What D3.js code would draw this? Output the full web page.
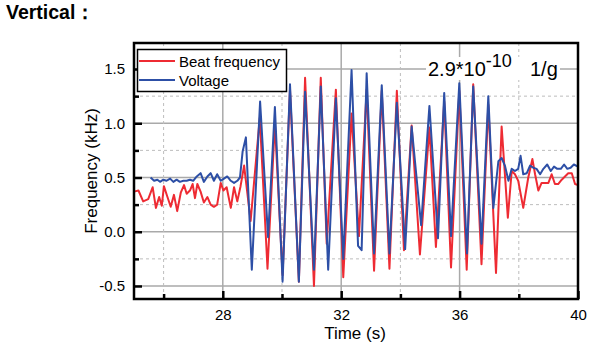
<!DOCTYPE html>
<html>
<head>
<meta charset="utf-8">
<script src="https://cdn.jsdelivr.net/npm/d3@7"></script>
<style>
  body { margin: 0; background: #fff; }
  svg { font-family: "Liberation Sans", Arial, sans-serif; }
</style>
</head>
<body>
<svg id="chart" width="603" height="349"></svg>
<script>
// values
let beatTime = [25.00,25.15,25.31,25.48,25.63,25.74,25.85,25.94,26.01,26.13,26.24,26.35,26.46,26.58,26.69,26.78,26.89,26.98,27.06,27.14,27.25,27.36,27.48,27.59,27.70,27.81,27.93,28.02,28.13,28.27,28.38,28.49,28.60,28.72,28.94,
  29.25,29.51,29.76,30.02,30.27,30.57,30.78,31.08,31.31,31.51,31.82,32.07,32.35,32.60,32.86,33.11,33.37,33.63,33.88,34.12,34.38,34.66,34.98,35.20,35.48,35.71,35.99,36.24,36.46,36.74,36.97,37.23,37.42,37.63,
  37.76,37.87,37.98,38.15,38.32,38.46,38.55,38.66,38.77,38.89,39.00,39.11,39.22,39.33,39.45,39.56,39.67,39.79,39.90,40.00];
let beatFreq = [0.37,0.38,0.28,0.30,0.41,0.22,0.32,0.24,0.42,0.32,0.23,0.34,0.19,0.36,0.43,0.35,0.38,0.44,0.31,0.44,0.37,0.27,0.32,0.25,0.23,0.25,0.45,0.38,0.41,0.22,0.41,0.28,0.42,0.61,0.10,
  1.05,-0.34,1.00,-0.40,1.31,-0.46,1.42,-0.50,1.42,-0.11,1.31,-0.42,1.09,-0.04,1.31,-0.36,1.30,-0.34,1.30,-0.17,0.98,-0.21,0.96,-0.14,1.20,-0.33,1.30,-0.35,1.36,-0.30,1.17,-0.38,0.97,0.13,
  0.56,0.53,0.47,0.22,0.50,0.67,0.53,0.38,0.45,0.45,0.45,0.53,0.44,0.44,0.48,0.51,0.54,0.54,0.44,0.43];

let voltTime = [25.56,25.68,25.79,25.88,25.99,26.10,26.22,26.33,26.44,26.55,26.67,26.78,26.89,27.00,27.12,27.25,27.36,27.48,27.59,27.70,27.81,27.93,28.04,28.15,28.27,28.38,28.49,28.58,28.67,28.78,
  28.98,29.26,29.53,29.76,30.02,30.27,30.57,30.78,31.08,31.31,31.56,31.82,32.07,32.35,32.57,32.69,32.86,33.11,33.37,33.63,33.88,34.16,34.38,34.70,34.98,35.27,35.48,35.71,35.99,36.25,36.46,36.74,36.97,37.14,
  37.31,37.42,37.53,37.65,37.76,37.87,37.98,38.06,38.15,38.27,38.38,38.49,38.60,38.72,38.83,38.96,39.08,39.19,39.30,39.42,39.53,39.64,39.75,39.86,40.00];
let voltValue = [0.50,0.47,0.48,0.46,0.48,0.47,0.49,0.46,0.48,0.46,0.47,0.47,0.48,0.47,0.51,0.54,0.46,0.51,0.54,0.47,0.53,0.47,0.49,0.51,0.47,0.45,0.47,0.50,0.74,0.87,
  -0.35,1.20,-0.05,1.15,-0.46,1.36,-0.46,1.29,-0.35,1.34,-0.35,1.23,-0.25,1.49,-0.13,-0.17,1.46,-0.20,1.35,-0.20,1.19,-0.16,0.97,0.06,1.16,-0.06,1.28,-0.04,1.37,-0.20,1.34,-0.11,1.25,0.22,
  0.65,0.68,0.61,0.47,0.58,0.56,0.58,0.70,0.53,0.54,0.61,0.59,0.58,0.53,0.58,0.62,0.56,0.60,0.58,0.58,0.62,0.58,0.59,0.62,0.60];

let yMajor = [-0.5, 0, 0.5, 1.0, 1.5];
let yMinor = [-0.25, 0.25, 0.75, 1.25];
let xMajor = [28, 32, 36, 40];
let xMinor = [26, 30, 34, 38];

let svg = d3.select('#chart');

// title
svg.append('text')
  .attr('x', 6).attr('y', 19)
  .style('font-size', '19.5px').style('font-weight', 'bold')
  .text('Vertical：');

let pLeft = 134, pRight = 578, pTop = 43, pBottom = 299;
let x = d3.scaleLinear().domain([25, 40]).range([pLeft, pRight]);
let y = d3.scaleLinear().domain([-0.62, 1.74]).range([pBottom, pTop]);

// grid
let grid = svg.append('g');
grid.selectAll('.hmaj').data(yMajor).enter().append('line')
  .attr('x1', pLeft).attr('x2', pRight)
  .attr('y1', d => y(d)).attr('y2', d => y(d))
  .attr('stroke', '#a9a9a9').attr('stroke-width', 1.5);
grid.selectAll('.vmaj').data(xMajor.filter(d => d < 40)).enter().append('line')
  .attr('x1', d => x(d)).attr('x2', d => x(d))
  .attr('y1', pTop).attr('y2', pBottom)
  .attr('stroke', '#a9a9a9').attr('stroke-width', 1.5);
grid.selectAll('.hmin').data(yMinor).enter().append('line')
  .attr('x1', pLeft).attr('x2', pRight)
  .attr('y1', d => y(d)).attr('y2', d => y(d))
  .attr('stroke', '#bdbdbd').attr('stroke-width', 1).attr('stroke-dasharray', '3,3');
grid.selectAll('.vmin').data(xMinor).enter().append('line')
  .attr('x1', d => x(d)).attr('x2', d => x(d))
  .attr('y1', pTop).attr('y2', pBottom)
  .attr('stroke', '#bdbdbd').attr('stroke-width', 1).attr('stroke-dasharray', '3,3');

// series
let line = d3.line().x(d => x(d[0])).y(d => y(d[1]));
let beat = beatTime.map((t, i) => [t, beatFreq[i]]);
let volt = voltTime.map((t, i) => [t, voltValue[i]]);

svg.append('path').datum(beat)
  .attr('d', line).attr('fill', 'none')
  .attr('stroke', '#ee2b33').attr('stroke-width', 2).attr('stroke-linejoin', 'round');
svg.append('path').datum(volt)
  .attr('d', line).attr('fill', 'none')
  .attr('stroke', '#2d4fa6').attr('stroke-width', 2).attr('stroke-linejoin', 'round');

// axes
let fmt = d => d.toFixed(1);
svg.append('g').attr('transform', `translate(${pLeft},0)`)
  .call(d3.axisLeft(y).tickValues(yMajor).tickFormat(fmt).tickSize(-8).tickPadding(9));
svg.append('g').attr('transform', `translate(${pLeft},0)`)
  .call(d3.axisLeft(y).tickValues(yMinor).tickFormat('').tickSize(-5));
svg.append('g').attr('transform', `translate(0,${pBottom})`)
  .call(d3.axisBottom(x).tickValues(xMajor).tickSize(-8).tickPadding(10));
svg.append('g').attr('transform', `translate(0,${pBottom})`)
  .call(d3.axisBottom(x).tickValues(xMinor).tickFormat('').tickSize(-5));

svg.selectAll('.domain').remove();
svg.selectAll('.tick line').attr('stroke', '#000').attr('stroke-width', 2.5);
svg.selectAll('.tick text').style('font-size', '15px').attr('fill', '#000')
  .style('font-family', '"Liberation Sans", Arial, sans-serif');

// frame
svg.append('rect')
  .attr('x', pLeft).attr('y', pTop)
  .attr('width', pRight - pLeft).attr('height', pBottom - pTop)
  .attr('fill', 'none').attr('stroke', '#000').attr('stroke-width', 2.5);

// axis titles
svg.append('text')
  .attr('x', 355).attr('y', 339)
  .attr('text-anchor', 'middle').style('font-size', '17px')
  .text('Time (s)');
svg.append('text')
  .attr('transform', `translate(97,${(pTop + pBottom) / 2}) rotate(-90)`)
  .attr('text-anchor', 'middle').style('font-size', '17px')
  .text('Frequency (kHz)');

// legend
let legend = svg.append('g');
legend.append('rect')
  .attr('x', 137.5).attr('y', 49.5).attr('width', 149).attr('height', 42)
  .attr('fill', '#fff').attr('stroke', '#000').attr('stroke-width', 1.5);
let legendItems = [['Beat frequency', '#ee2b33'], ['Voltage', '#2d4fa6']];
legendItems.forEach((d, i) => {
  let yy = 61 + i * 19;
  legend.append('line')
    .attr('x1', 139).attr('x2', 175).attr('y1', yy).attr('y2', yy)
    .attr('stroke', d[1]).attr('stroke-width', 2);
  legend.append('text')
    .attr('x', 179).attr('y', yy + 5.5)
    .style('font-size', '15px')
    .text(d[0]);
});

// annotation
svg.append('rect')
  .attr('x', 426).attr('y', 57).attr('width', 134).attr('height', 23)
  .attr('fill', '#fff');
let note = svg.append('text').attr('x', 428).attr('y', 76).style('font-size', '20px');
note.append('tspan').text('2.9*10');
note.append('tspan').attr('dy', -9).style('font-size', '18px').text('-10');
note.append('tspan').attr('dy', 9).attr('x', 530).text('1/g');
</script>
</body>
</html>
